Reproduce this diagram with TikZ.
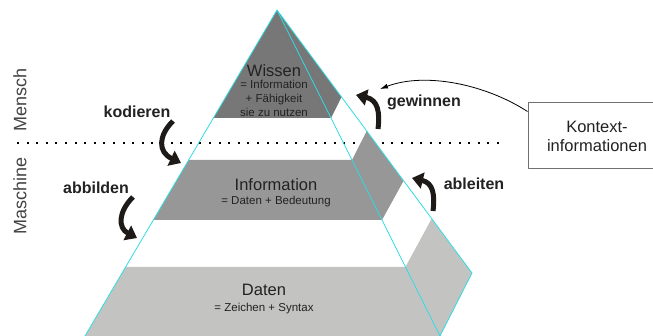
\documentclass[tikz,border=0pt]{standalone}
\usepackage{fontspec}
\setmainfont{Liberation Sans}
\usetikzlibrary{arrows.meta}
\definecolor{wissengray}{HTML}{777777}
\definecolor{infogray}{HTML}{979797}
\definecolor{datengray}{HTML}{C3C3C1}
\definecolor{edgecyan}{HTML}{2FDCE4}
\definecolor{curlblack}{HTML}{1E1A18}
\definecolor{boxgray}{HTML}{707070}
\definecolor{textblack}{HTML}{222222}

\begin{document}
\begin{tikzpicture}[
  x=1pt,
  y=-1pt,
  line join=round,
  edge/.style={draw=edgecyan,line width=0.8pt},
  bandtitle/.style={font=\fontsize{16.5}{19}\selectfont,text=textblack,inner sep=0pt},
  banddetail/.style={font=\fontsize{11.5}{14}\selectfont,text=textblack,align=center,inner sep=0pt},
  verblabel/.style={font=\bfseries\fontsize{16}{19}\selectfont,text=textblack,inner sep=0pt},
  sidelabel/.style={font=\fontsize{18}{20}\selectfont,text=textblack!85,rotate=90,inner sep=0pt},
  curlarrow/.style={draw=curlblack,line width=5pt,-{Triangle[length=11pt,width=16pt]}},
  separator/.style={draw=black,line width=2pt,dash pattern=on 2pt off 7.6pt},
  contextbox/.style={draw=boxgray,line width=1pt,fill=white,minimum width=138pt,
    minimum height=66pt,align=center,font=\fontsize{16.5}{19}\selectfont,text=textblack},
  pointer/.style={draw=black,line width=0.8pt,-{Latex[length=8pt,width=5pt]}}
]
  \useasboundingbox (0,0) rectangle (653,336);

  % Pyramid corners (apex, front left, front right, back right).
  \coordinate (A) at (277,10);
  \coordinate (FL) at (85,336);
  \coordinate (FR) at (440,336);
  \coordinate (BR) at (472,273);

  % Band limits on the left, front and back edges.
  \coordinate (L1) at (213.4,118);
  \coordinate (F1) at (331,118);
  \coordinate (B1) at (341.5,97);
  \coordinate (L2) at (188.7,160);
  \coordinate (F2) at (352,160);
  \coordinate (B2) at (366.7,131);
  \coordinate (L3) at (153.4,220);
  \coordinate (F3) at (382,220);
  \coordinate (B3) at (403.5,181);
  \coordinate (L4) at (125.7,267);
  \coordinate (F4) at (405.4,267);
  \coordinate (B4) at (431.5,219);

  % Dotted border between man and machine.
  \coordinate (sepL) at (17,143);
  \coordinate (sepR) at (502,143);
  \draw[separator] (sepL) -- (sepR);

  % Filled bands, front and side face together.
  \fill[wissengray] (A) -- (L1) -- (F1) -- (B1) -- cycle;
  \fill[infogray] (L2) -- (L3) -- (F3) -- (B3) -- (B2) -- (F2) -- cycle;
  \fill[datengray] (L4) -- (FL) -- (FR) -- (BR) -- (B4) -- (F4) -- cycle;

  % Pyramid edges.
  \draw[edge] (FL) -- (A) -- (FR);
  \draw[edge] (A) -- (BR) -- (FR);

  % Band texts.
  \node[bandtitle] (wissen) at (274,71) {Wissen};
  \node[banddetail] (wissendef) at (274,98) {= Information\\+ Fähigkeit\\sie zu nutzen};
  \node[bandtitle] (information) at (276,185) {Information};
  \node[banddetail] (informationdef) at (276,202) {= Daten + Bedeutung};
  \node[bandtitle] (daten) at (264,290) {Daten};
  \node[banddetail] (datendef) at (264,309) {= Zeichen + Syntax};

  % Side labels.
  \node[sidelabel] (mensch) at (20,100) {Mensch};
  \node[sidelabel] (maschine) at (20,196) {Maschine};

  % Transition verbs with curled arrows.
  \node[verblabel] (kodieren) at (137,112) {kodieren};
  \node[verblabel] (abbilden) at (96,188) {abbilden};
  \node[verblabel] (gewinnen) at (424,102) {gewinnen};
  \node[verblabel] (ableiten) at (474,184) {ableiten};

  \coordinate (kodierenS) at (173,121);
  \coordinate (kodierenT) at (181,163);
  \coordinate (abbildenS) at (133,197);
  \coordinate (abbildenT) at (137,238);
  \coordinate (gewinnenS) at (378,129);
  \coordinate (gewinnenT) at (356,95);
  \coordinate (ableitenS) at (433,211);
  \coordinate (ableitenT) at (412,178);

  \draw[curlarrow] (kodierenS) .. controls (158,136) and (158,152) .. (kodierenT);
  \draw[curlarrow] (abbildenS) .. controls (118,212) and (118,228) .. (abbildenT);
  \draw[curlarrow] (gewinnenS) .. controls (380,112) and (378,100) .. (gewinnenT);
  \draw[curlarrow] (ableitenS) .. controls (435,194) and (433,183) .. (ableitenT);

  % Context information feeds the gain of knowledge.
  \node[contextbox] (kontext) at (597,136) {Kontext-\\informationen};
  \coordinate (pointertip) at (380,89);
  \draw[pointer] ([yshift=-9pt]kontext.north west) .. controls (485,84) and (425,72) .. (pointertip);
\end{tikzpicture}
\end{document}
